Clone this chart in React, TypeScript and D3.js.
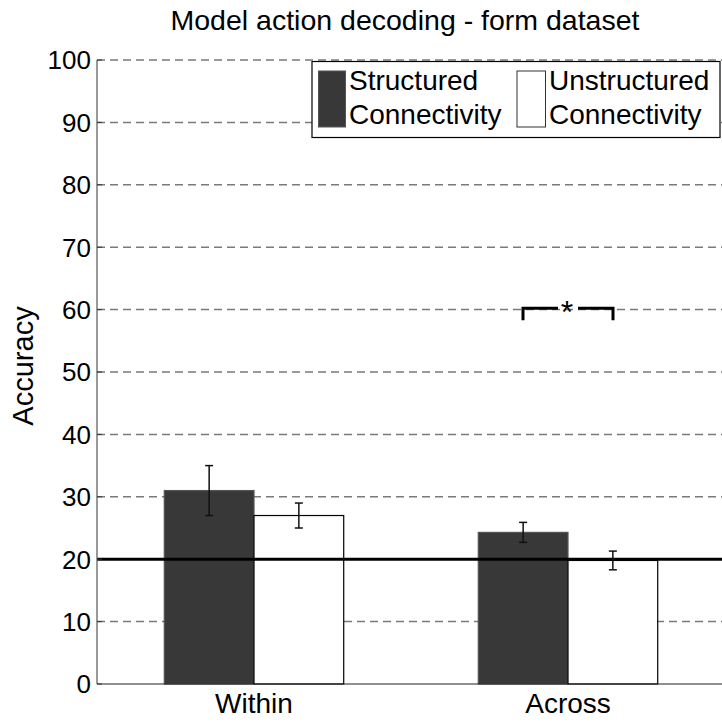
import React from "react";
import * as d3 from "d3";

const categories = ["Within", "Across"];
const structured = [31, 24.3];
const structuredErr = [4, 1.6];
const unstructured = [27, 19.8];
const unstructuredErr = [2, 1.5];
const yTicks = [0, 10, 20, 30, 40, 50, 60, 70, 80, 90, 100];
const chance = 20;
const sigLevel = 60.2;
const seriesNames = [["Structured", "Connectivity"], ["Unstructured", "Connectivity"]];

const W = 722, H = 723;
const left = 97, right = 725, top = 60, bottom = 684;
const FONT = "'Liberation Sans', Arial, Helvetica, sans-serif";

export default function App() {
  const x = d3.scaleLinear().domain([0.5, 2.5]).range([left, right]);
  const y = d3.scaleLinear().domain([0, 100]).range([bottom, top]);
  const bw = 0.5714 / 2;
  const offs = [-bw / 2, bw / 2];
  const series = [
    { vals: structured, errs: structuredErr, fill: "#383838", stroke: "#555" },
    { vals: unstructured, errs: unstructuredErr, fill: "#ffffff", stroke: "#000" },
  ];
  const bwPx = x(1 + bw) - x(1);
  const cap = 4;
  const bL = x(2) - 45;
  const bR = x(2) + 45;
  const bMid = (bL + bR) / 2;
  const by = y(sigLevel);
  return (
    <svg width={W} height={H} style={{ position: "absolute", left: 0, top: 0, background: "#fff" }}>
      <rect x={0} y={0} width={W} height={H} fill="#fff" />
      {yTicks.filter((t) => t > 0).map((t) => (
        <line key={t} x1={left} x2={W} y1={y(t)} y2={y(t)} stroke="#7a7a7a" strokeWidth={1.5} strokeDasharray="8,5" />
      ))}
      {series.map((s, si) =>
        s.vals.map((v, i) => {
          const cx = x(i + 1 + offs[si]);
          return (
            <rect key={`b${si}-${i}`} x={cx - bwPx / 2} y={y(v)} width={bwPx} height={y(0) - y(v)}
              fill={s.fill} stroke={s.stroke} strokeWidth={1.2} />
          );
        })
      )}
      <line x1={left} x2={W} y1={y(chance)} y2={y(chance)} stroke="#000" strokeWidth={3} />
      {series.map((s, si) =>
        s.vals.map((v, i) => {
          const cx = x(i + 1 + offs[si]);
          const y1 = y(v + s.errs[i]);
          const y2 = y(v - s.errs[i]);
          return (
            <g key={`e${si}-${i}`} stroke="#111" strokeWidth={1.5}>
              <line x1={cx} x2={cx} y1={y1} y2={y2} />
              <line x1={cx - cap} x2={cx + cap} y1={y1} y2={y1} />
              <line x1={cx - cap} x2={cx + cap} y1={y2} y2={y2} />
            </g>
          );
        })
      )}
      <line x1={left} x2={left} y1={top} y2={bottom} stroke="#555" strokeWidth={1.2} />
      <line x1={left} x2={W} y1={bottom} y2={bottom} stroke="#222" strokeWidth={1.2} />
      {yTicks.map((t) => (
        <g key={`t${t}`}>
          <line x1={left} x2={left + 5} y1={y(t)} y2={y(t)} stroke="#333" strokeWidth={1} />
          <text x={91} y={y(t)} dy="0.36em" textAnchor="end" fontSize={26} fontFamily={FONT} fill="#000">{t}</text>
        </g>
      ))}
      {categories.map((c, i) => (
        <text key={c} x={x(i + 1)} y={713} textAnchor="middle" fontSize={28} fontFamily={FONT} fill="#000">{c}</text>
      ))}
      <text transform={`translate(33,${(top + bottom) / 2 - 6}) rotate(-90)`} textAnchor="middle" fontSize={29} fontFamily={FONT} fill="#000">Accuracy</text>
      <text x={405} y={30} textAnchor="middle" fontSize={28.5} fontFamily={FONT} fill="#000">Model action decoding - form dataset</text>
      <g stroke="#000" strokeWidth={3} fill="none">
        <path d={`M${bL},${by + 12} V${by} H${bMid - 10}`} />
        <path d={`M${bMid + 10},${by} H${bR} V${by + 12}`} />
      </g>
      <text x={bMid - 1} y={by + 15} textAnchor="middle" fontSize={32} fontFamily={FONT} fill="#000">*</text>
      <rect x={312} y={61.5} width={408} height={76} fill="#fff" stroke="#000" strokeWidth={1.2} />
      <rect x={318.5} y={71} width={27} height={56} fill="#383838" stroke="#555" strokeWidth={1} />
      <rect x={517} y={71} width={28.5} height={56} fill="#fff" stroke="#333" strokeWidth={1} />
      {seriesNames.map((lines, si) => (
        <text key={`l${si}`} x={si === 0 ? 349 : 549} fontSize={28} fontFamily={FONT} fill="#000">
          <tspan x={si === 0 ? 349 : 549} y={90}>{lines[0]}</tspan>
          <tspan x={si === 0 ? 349 : 549} y={124}>{lines[1]}</tspan>
        </text>
      ))}
    </svg>
  );
}
